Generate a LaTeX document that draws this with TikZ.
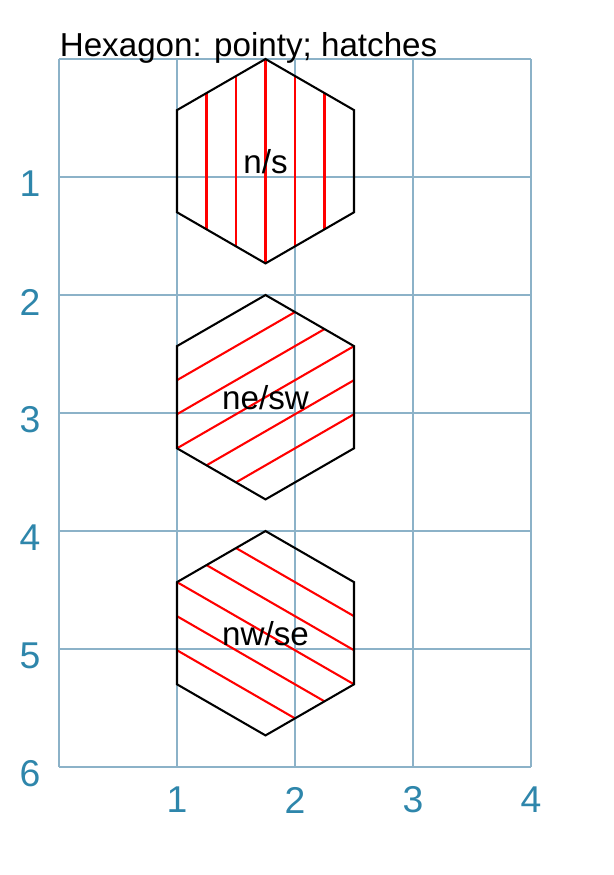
\documentclass[tikz,border=0pt]{standalone}
\usepackage{fontspec}
\setmainfont{Liberation Sans}
\usetikzlibrary{positioning,calc}

\definecolor{gridblue}{RGB}{140,178,200}
\definecolor{axisblue}{RGB}{46,134,171}

\tikzset{
  gridline/.style={draw=gridblue, line width=0.3pt},
  axislabel/.style={text=axisblue, font=\fontsize{9}{11}\selectfont, inner sep=0pt},
  hexlabel/.style={font=\fontsize{8}{10}\selectfont, inner sep=1pt},
  hexline/.style={draw=black, line width=0.5pt, line join=miter},
  hatchline/.style={draw=red, line width=0.5pt}
}

\newcommand{\hexpath}[2]{(#1,#2-0.866) -- (#1+0.75,#2-0.433) -- (#1+0.75,#2+0.433)
  -- (#1,#2+0.866) -- (#1-0.75,#2+0.433) -- (#1-0.75,#2-0.433) -- cycle}

\begin{document}
\begin{tikzpicture}[y=-1cm]
  \useasboundingbox (-0.5,-0.5) rectangle (4.695,6.915);

  \foreach \i in {0,...,4}
    \draw[gridline] (\i,0) -- (\i,6);
  \foreach \j in {0,...,6}
    \draw[gridline] (0,\j) -- (4,\j);

  \foreach \j in {1,...,6}
    \node[axislabel] (ylab\j) at (-0.245,\j+0.06) {\j};
  \foreach \i in {1,...,4}
    \node[axislabel] (xlab\i) at (\i,6.28) {\i};

  \node[anchor=base west, inner sep=0pt, font=\fontsize{8}{10}\selectfont] (title) at (0,-0.02)
       {Hexagon: pointy; hatches};

  % n/s
  \begin{scope}
    \clip \hexpath{1.75}{0.866};
    \foreach \k in {-2,...,2}
      \draw[hatchline] (1.75+0.25*\k,-0.2) -- (1.75+0.25*\k,1.9);
  \end{scope}
  \draw[hexline] \hexpath{1.75}{0.866};
  \node[hexlabel] (ns) at (1.75,0.866) {n/s};

  % ne/sw
  \begin{scope}
    \clip \hexpath{1.75}{2.866};
    \foreach \k in {-2,...,2}
      \draw[hatchline] ($(1.75,2.866)+(0.125*\k,0.2165*\k)+(-1.732,1)$)
        -- ($(1.75,2.866)+(0.125*\k,0.2165*\k)+(1.732,-1)$);
  \end{scope}
  \draw[hexline] \hexpath{1.75}{2.866};
  \node[hexlabel] (nesw) at (1.75,2.866) {ne/sw};

  % nw/se
  \begin{scope}
    \clip \hexpath{1.75}{4.866};
    \foreach \k in {-2,...,2}
      \draw[hatchline] ($(1.75,4.866)+(0.125*\k,-0.2165*\k)+(-1.732,-1)$)
        -- ($(1.75,4.866)+(0.125*\k,-0.2165*\k)+(1.732,1)$);
  \end{scope}
  \draw[hexline] \hexpath{1.75}{4.866};
  \node[hexlabel] (nwse) at (1.75,4.866) {nw/se};
\end{tikzpicture}
\end{document}
